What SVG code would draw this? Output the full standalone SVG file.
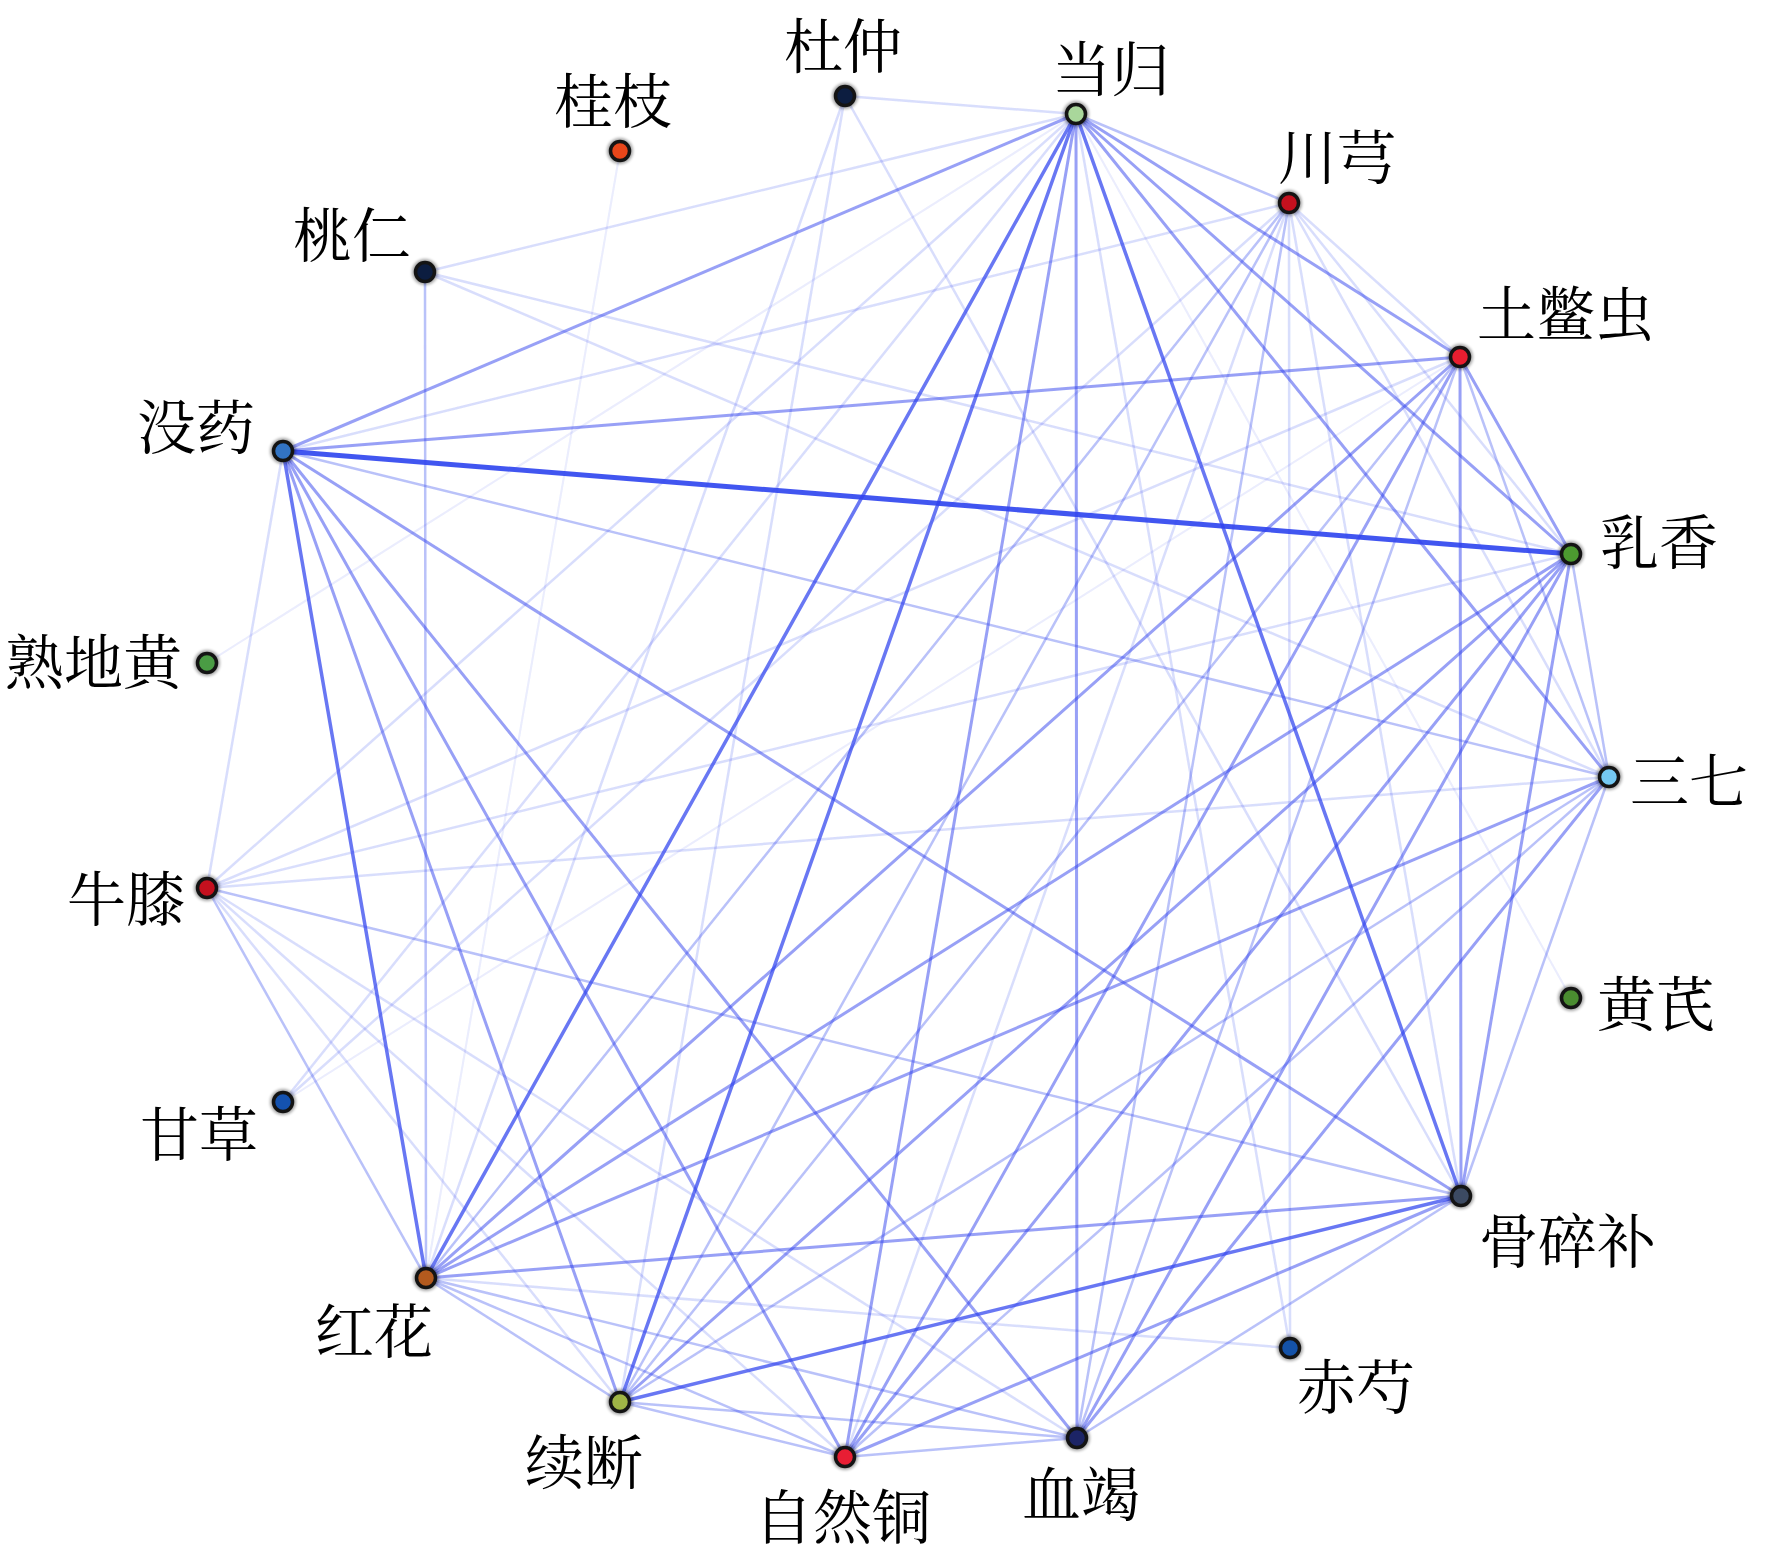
<svg xmlns="http://www.w3.org/2000/svg" width="1765" height="1555" viewBox="0 0 1765 1555">
<defs>
<style>
.edges line{stroke:#2f42ee;stroke-linecap:round;fill:none}
.e5{stroke-width:5;stroke-opacity:.9}
.e4{stroke-width:3.5;stroke-opacity:.72}
.e3{stroke-width:3;stroke-opacity:.5}
.e2{stroke-width:2.5;stroke-opacity:.33}
.e1{stroke-width:2.5;stroke-opacity:.18}
.e0{stroke-width:2;stroke-opacity:.1}
.node circle{stroke:#141414;stroke-width:3.5}
.node circle.halo{fill:#000;stroke:none;opacity:.35;filter:url(#soft)}
.node text{font-family:"Noto Serif CJK SC","Noto Sans CJK SC",serif;font-size:59px;fill:#000}
</style>
<filter id="soft" x="-50%" y="-50%" width="200%" height="200%"><feGaussianBlur stdDeviation="1.5"/></filter>
<filter id="lb" x="-5%" y="-5%" width="110%" height="110%"><feGaussianBlur stdDeviation="0.7"/></filter>
</defs>
<rect width="1765" height="1555" fill="#fff"/>
<g id="edges" class="edges" filter="url(#lb)">
<line class="e0" x1="1076" y1="114" x2="207" y2="663"/>
<line class="e0" x1="1076" y1="114" x2="1571" y2="998"/>
<line class="e0" x1="426" y1="1278" x2="620" y2="151"/>
<line class="e0" x1="283" y1="1102" x2="1460" y2="357"/>
<line class="e1" x1="1076" y1="114" x2="845" y2="96"/>
<line class="e1" x1="1076" y1="114" x2="425" y2="272"/>
<line class="e1" x1="1076" y1="114" x2="207" y2="888"/>
<line class="e1" x1="1076" y1="114" x2="283" y2="1102"/>
<line class="e1" x1="1076" y1="114" x2="1290" y2="1348"/>
<line class="e1" x1="283" y1="451" x2="1289" y2="203"/>
<line class="e1" x1="283" y1="451" x2="207" y2="888"/>
<line class="e1" x1="1571" y1="554" x2="207" y2="888"/>
<line class="e1" x1="1571" y1="554" x2="1289" y2="203"/>
<line class="e1" x1="1460" y1="357" x2="1289" y2="203"/>
<line class="e1" x1="1460" y1="357" x2="207" y2="888"/>
<line class="e1" x1="1609" y1="777" x2="207" y2="888"/>
<line class="e1" x1="1609" y1="777" x2="1289" y2="203"/>
<line class="e1" x1="1461" y1="1196" x2="1289" y2="203"/>
<line class="e1" x1="845" y1="1457" x2="1289" y2="203"/>
<line class="e1" x1="620" y1="1402" x2="207" y2="888"/>
<line class="e1" x1="845" y1="1457" x2="207" y2="888"/>
<line class="e1" x1="1077" y1="1438" x2="207" y2="888"/>
<line class="e1" x1="845" y1="96" x2="620" y2="1402"/>
<line class="e1" x1="845" y1="96" x2="1461" y2="1196"/>
<line class="e1" x1="845" y1="96" x2="426" y2="1278"/>
<line class="e1" x1="425" y1="272" x2="1571" y2="554"/>
<line class="e1" x1="425" y1="272" x2="1609" y2="777"/>
<line class="e1" x1="283" y1="1102" x2="1289" y2="203"/>
<line class="e1" x1="1290" y1="1348" x2="1289" y2="203"/>
<line class="e1" x1="1290" y1="1348" x2="426" y2="1278"/>
<line class="e2" x1="1076" y1="114" x2="1289" y2="203"/>
<line class="e2" x1="283" y1="451" x2="1609" y2="777"/>
<line class="e2" x1="1571" y1="554" x2="1609" y2="777"/>
<line class="e2" x1="1460" y1="357" x2="1077" y2="1438"/>
<line class="e2" x1="1460" y1="357" x2="620" y2="1402"/>
<line class="e2" x1="1460" y1="357" x2="1609" y2="777"/>
<line class="e2" x1="1609" y1="777" x2="845" y2="1457"/>
<line class="e2" x1="1609" y1="777" x2="1461" y2="1196"/>
<line class="e2" x1="1609" y1="777" x2="620" y2="1402"/>
<line class="e2" x1="1461" y1="1196" x2="1077" y2="1438"/>
<line class="e2" x1="1077" y1="1438" x2="845" y2="1457"/>
<line class="e2" x1="1077" y1="1438" x2="620" y2="1402"/>
<line class="e2" x1="1077" y1="1438" x2="426" y2="1278"/>
<line class="e2" x1="845" y1="1457" x2="620" y2="1402"/>
<line class="e2" x1="845" y1="1457" x2="426" y2="1278"/>
<line class="e2" x1="620" y1="1402" x2="426" y2="1278"/>
<line class="e2" x1="426" y1="1278" x2="1289" y2="203"/>
<line class="e2" x1="426" y1="1278" x2="425" y2="272"/>
<line class="e2" x1="426" y1="1278" x2="207" y2="888"/>
<line class="e2" x1="1077" y1="1438" x2="1289" y2="203"/>
<line class="e2" x1="620" y1="1402" x2="1289" y2="203"/>
<line class="e2" x1="207" y1="888" x2="1461" y2="1196"/>
<line class="e3" x1="1076" y1="114" x2="283" y2="451"/>
<line class="e3" x1="1076" y1="114" x2="1077" y2="1438"/>
<line class="e3" x1="1076" y1="114" x2="1571" y2="554"/>
<line class="e3" x1="1076" y1="114" x2="1460" y2="357"/>
<line class="e3" x1="1076" y1="114" x2="1609" y2="777"/>
<line class="e3" x1="1076" y1="114" x2="845" y2="1457"/>
<line class="e3" x1="283" y1="451" x2="1461" y2="1196"/>
<line class="e3" x1="283" y1="451" x2="845" y2="1457"/>
<line class="e3" x1="283" y1="451" x2="1077" y2="1438"/>
<line class="e3" x1="283" y1="451" x2="620" y2="1402"/>
<line class="e3" x1="283" y1="451" x2="1460" y2="357"/>
<line class="e3" x1="1571" y1="554" x2="1460" y2="357"/>
<line class="e3" x1="1571" y1="554" x2="1461" y2="1196"/>
<line class="e3" x1="1571" y1="554" x2="1077" y2="1438"/>
<line class="e3" x1="1571" y1="554" x2="845" y2="1457"/>
<line class="e3" x1="1571" y1="554" x2="620" y2="1402"/>
<line class="e3" x1="1571" y1="554" x2="426" y2="1278"/>
<line class="e3" x1="1460" y1="357" x2="1461" y2="1196"/>
<line class="e3" x1="1460" y1="357" x2="845" y2="1457"/>
<line class="e3" x1="1460" y1="357" x2="426" y2="1278"/>
<line class="e3" x1="845" y1="1457" x2="1461" y2="1196"/>
<line class="e3" x1="1461" y1="1196" x2="426" y2="1278"/>
<line class="e3" x1="426" y1="1278" x2="1609" y2="777"/>
<line class="e3" x1="1077" y1="1438" x2="1609" y2="777"/>
<line class="e4" x1="1076" y1="114" x2="620" y2="1402"/>
<line class="e4" x1="1076" y1="114" x2="1461" y2="1196"/>
<line class="e4" x1="620" y1="1402" x2="1461" y2="1196"/>
<line class="e4" x1="283" y1="451" x2="426" y2="1278"/>
<line class="e4" x1="1076" y1="114" x2="426" y2="1278"/>
<line class="e5" x1="283" y1="451" x2="1571" y2="554"/>
</g>
<g id="nodes">
<g id="n-danggui" class="node"><circle class="halo" cx="1076" cy="114" r="13"/><circle cx="1076" cy="114" r="9.5" fill="#a9d79b"/><text x="1052" y="91">当归</text></g>
<g id="n-duzhong" class="node"><circle class="halo" cx="845" cy="96" r="13"/><circle cx="845" cy="96" r="9.5" fill="#0c1d40"/><text x="784" y="68">杜仲</text></g>
<g id="n-guizhi" class="node"><circle class="halo" cx="620" cy="151" r="13"/><circle cx="620" cy="151" r="9.5" fill="#e8461a"/><text x="554" y="123">桂枝</text></g>
<g id="n-taoren" class="node"><circle class="halo" cx="425" cy="272" r="13"/><circle cx="425" cy="272" r="9.5" fill="#0c1d40"/><text x="293" y="257">桃仁</text></g>
<g id="n-moyao" class="node"><circle class="halo" cx="283" cy="451" r="13"/><circle cx="283" cy="451" r="9.5" fill="#3274c4"/><text x="137" y="449">没药</text></g>
<g id="n-shudihuang" class="node"><circle class="halo" cx="207" cy="663" r="13"/><circle cx="207" cy="663" r="9.5" fill="#4a9c44"/><text x="5" y="684">熟地黄</text></g>
<g id="n-niuxi" class="node"><circle class="halo" cx="207" cy="888" r="13"/><circle cx="207" cy="888" r="9.5" fill="#c4101e"/><text x="67" y="921">牛膝</text></g>
<g id="n-gancao" class="node"><circle class="halo" cx="283" cy="1102" r="13"/><circle cx="283" cy="1102" r="9.5" fill="#1452b0"/><text x="140" y="1156">甘草</text></g>
<g id="n-honghua" class="node"><circle class="halo" cx="426" cy="1278" r="13"/><circle cx="426" cy="1278" r="9.5" fill="#b35a1e"/><text x="315" y="1353">红花</text></g>
<g id="n-xuduan" class="node"><circle class="halo" cx="620" cy="1402" r="13"/><circle cx="620" cy="1402" r="9.5" fill="#9fb446"/><text x="525" y="1484">续断</text></g>
<g id="n-zirantong" class="node"><circle class="halo" cx="845" cy="1457" r="13"/><circle cx="845" cy="1457" r="9.5" fill="#e81e34"/><text x="754" y="1539">自然铜</text></g>
<g id="n-xuejie" class="node"><circle class="halo" cx="1077" cy="1438" r="13"/><circle cx="1077" cy="1438" r="9.5" fill="#1c2466"/><text x="1022" y="1516">血竭</text></g>
<g id="n-chishao" class="node"><circle class="halo" cx="1290" cy="1348" r="13"/><circle cx="1290" cy="1348" r="9.5" fill="#1452a8"/><text x="1297" y="1409">赤芍</text></g>
<g id="n-gusuibu" class="node"><circle class="halo" cx="1461" cy="1196" r="13"/><circle cx="1461" cy="1196" r="9.5" fill="#3c4a62"/><text x="1479" y="1263">骨碎补</text></g>
<g id="n-huangqi" class="node"><circle class="halo" cx="1571" cy="998" r="13"/><circle cx="1571" cy="998" r="9.5" fill="#4a8c30"/><text x="1597" y="1026">黄芪</text></g>
<g id="n-sanqi" class="node"><circle class="halo" cx="1609" cy="777" r="13"/><circle cx="1609" cy="777" r="9.5" fill="#74c8f2"/><text x="1630" y="803">三七</text></g>
<g id="n-ruxiang" class="node"><circle class="halo" cx="1571" cy="554" r="13"/><circle cx="1571" cy="554" r="9.5" fill="#4c9a30"/><text x="1600" y="564">乳香</text></g>
<g id="n-tubiechong" class="node"><circle class="halo" cx="1460" cy="357" r="13"/><circle cx="1460" cy="357" r="9.5" fill="#ea1e30"/><text x="1477" y="336">土鳖虫</text></g>
<g id="n-chuanxiong" class="node"><circle class="halo" cx="1289" cy="203" r="13"/><circle cx="1289" cy="203" r="9.5" fill="#c4101e"/><text x="1278" y="179">川芎</text></g>
</g>
</svg>
